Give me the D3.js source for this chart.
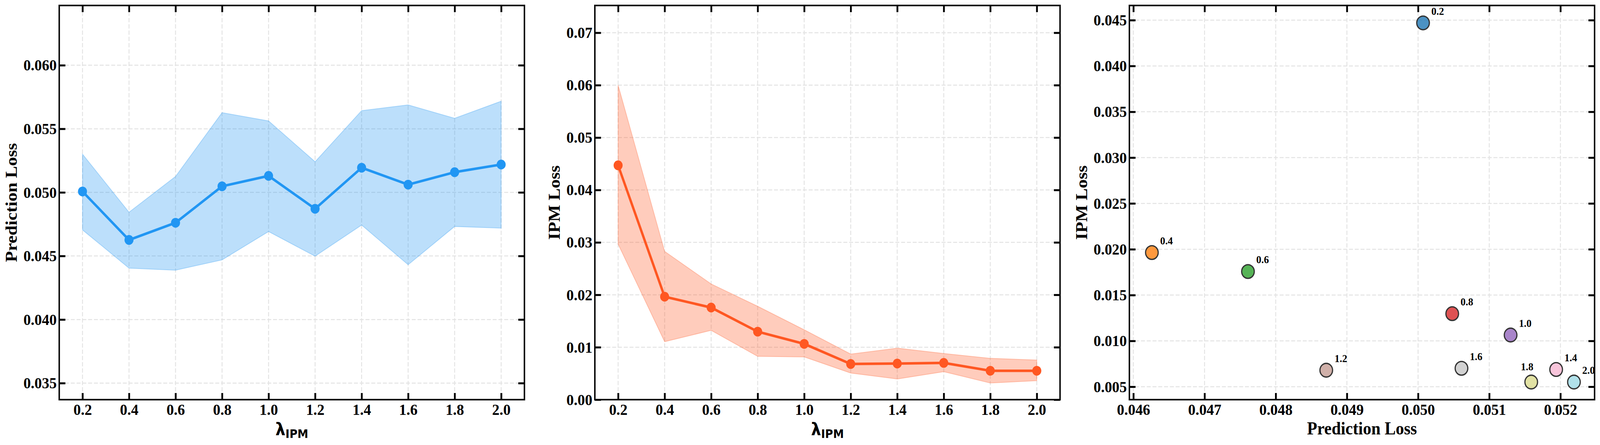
<!DOCTYPE html>
<html>
<head>
<meta charset="utf-8">
<script src="https://cdn.jsdelivr.net/npm/d3@7"></script>
<style>
  html, body { margin: 0; padding: 0; background: #fff; overflow: hidden; }
  #chart svg { display: block; }
</style>
</head>
<body>
<div id="chart"></div>
<script>
// ------------- data ----------------- //
const lambdas = [0.2, 0.4, 0.6, 0.8, 1.0, 1.2, 1.4, 1.6, 1.8, 2.0];

const predMean = [0.05007, 0.04626, 0.04761, 0.05048, 0.05130, 0.04871, 0.05194, 0.05061, 0.05159, 0.05219];
const predUpper = [0.05301, 0.04844, 0.05125, 0.05627, 0.05562, 0.05241, 0.05643, 0.05688, 0.05583, 0.05717];
const predLower = [0.04705, 0.04404, 0.04388, 0.04469, 0.04692, 0.04498, 0.04743, 0.04431, 0.04732, 0.04719];

const ipmMean = [0.04470, 0.01964, 0.01757, 0.01297, 0.01064, 0.00680, 0.00688, 0.00701, 0.00551, 0.00551];
const ipmUpper = [0.06000, 0.02828, 0.02207, 0.01781, 0.01333, 0.00869, 0.00982, 0.00880, 0.00788, 0.00756];
const ipmLower = [0.02968, 0.01106, 0.01322, 0.00826, 0.00815, 0.00507, 0.00394, 0.00534, 0.00318, 0.00362];

const lambdaTicks = [0.2, 0.4, 0.6, 0.8, 1.0, 1.2, 1.4, 1.6, 1.8, 2.0];
const predTicks = [0.035, 0.040, 0.045, 0.050, 0.055, 0.060];
const ipmTicks = [0.00, 0.01, 0.02, 0.03, 0.04, 0.05, 0.06, 0.07];
const scatterXTicks = [0.046, 0.047, 0.048, 0.049, 0.050, 0.051, 0.052];
const scatterYTicks = [0.005, 0.010, 0.015, 0.020, 0.025, 0.030, 0.035, 0.040, 0.045];

// tab20 picks for the ten lambdas
const pointColors = ['#1f77b4', '#ff7f0e', '#2ca02c', '#d62728', '#9467bd',
                     '#c49c94', '#f7b6d2', '#c7c7c7', '#dbdb8d', '#9edae5'];

// ------------- layout ----------------- //
const W = 4430, H = 1138;
const marginTop = 14, plotH = 1008, plotW = 1288;
const panelLefts = [164, 1647, 3127];
const serif = '"Liberation Serif", "Times New Roman", serif';
const sans = '"DejaVu Sans", sans-serif';

// viewBox stretched over the window so the figure fills the whole shot
const svg = d3.select('#chart')
  .append('svg')
  .attr('viewBox', '0 0 ' + W + ' ' + H)
  .attr('preserveAspectRatio', 'none')
  .style('width', '100vw')
  .style('height', '100vh')
  .style('background', '#fff');

// dashed light grid under everything
function frame(g, x, y, xTicks, yTicks) {
  const grid = g.append('g').attr('class', 'grid');
  grid.selectAll('line.gx').data(xTicks).join('line')
    .attr('class', 'gx')
    .attr('x1', d => x(d)).attr('x2', d => x(d))
    .attr('y1', 0).attr('y2', plotH);
  grid.selectAll('line.gy').data(yTicks).join('line')
    .attr('class', 'gy')
    .attr('x1', 0).attr('x2', plotW)
    .attr('y1', d => y(d)).attr('y2', d => y(d));
  grid.selectAll('line')
    .attr('stroke', '#e3e3e3')
    .attr('stroke-width', 2.5)
    .attr('stroke-dasharray', '11,5');
  return grid;
}

// inward ticks on all four sides, tick labels and the frame
function axes(g, x, y, xTicks, yTicks, xFmt, yFmt) {
  const style = sel => {
    sel.select('.domain').remove();
    sel.selectAll('.tick line').attr('stroke', '#000').attr('stroke-width', 5);
    sel.selectAll('.tick text')
      .attr('fill', '#000')
      .style('font-family', serif)
      .style('font-weight', 'bold')
      .style('font-size', '41px');
  };
  g.append('g')
    .attr('transform', 'translate(0,' + plotH + ')')
    .call(d3.axisBottom(x).tickValues(xTicks).tickFormat(xFmt).tickSizeInner(-17).tickSizeOuter(0).tickPadding(10))
    .call(style);
  g.append('g')
    .call(d3.axisTop(x).tickValues(xTicks).tickFormat('').tickSizeInner(-17).tickSizeOuter(0))
    .call(style);
  const left = g.append('g')
    .call(d3.axisLeft(y).tickValues(yTicks).tickFormat(yFmt).tickSizeInner(-17).tickSizeOuter(0).tickPadding(7))
    .call(style);
  g.append('g')
    .attr('transform', 'translate(' + plotW + ',0)')
    .call(d3.axisRight(y).tickValues(yTicks).tickFormat('').tickSizeInner(-17).tickSizeOuter(0))
    .call(style);

  g.append('rect')
    .attr('width', plotW)
    .attr('height', plotH)
    .attr('fill', 'none')
    .attr('stroke', '#000')
    .attr('stroke-width', 4);
  return left;
}

function yLabel(g, leftAxis, text) {
  const bb = leftAxis.node().getBBox();
  g.append('text')
    .attr('transform', 'translate(' + (bb.x - 18) + ',' + (plotH / 2) + ') rotate(-90)')
    .attr('text-anchor', 'middle')
    .style('font-family', serif)
    .style('font-weight', 'bold')
    .style('font-size', '46px')
    .text(text);
}

function lambdaLabel(g) {
  const t = g.append('text')
    .attr('x', plotW / 2)
    .attr('y', 1113 - marginTop)
    .attr('text-anchor', 'middle')
    .style('font-family', sans)
    .style('font-weight', 'bold');
  t.append('tspan').style('font-size', '44px').text('λ');
  t.append('tspan').style('font-size', '30px').attr('dy', 7).text('IPM');
}

// ------------- panel 1 & 2: line + band ----------------- //
function linePanel(idx, mean, lower, upper, yDomain, yTicks, yFmt, color, label) {
  const g = svg.append('g')
    .attr('transform', 'translate(' + panelLefts[idx] + ',' + marginTop + ')');

  const x = d3.scaleLinear().domain([0.1, 2.1]).range([0, plotW]);
  const y = d3.scaleLinear().domain(yDomain).range([plotH, 0]);

  frame(g, x, y, lambdaTicks, yTicks);

  const band = d3.area()
    .x((d, i) => x(lambdas[i]))
    .y0((d, i) => y(lower[i]))
    .y1((d, i) => y(upper[i]));

  g.append('path')
    .datum(mean)
    .attr('d', band)
    .attr('fill', color)
    .attr('fill-opacity', 0.3)
    .attr('stroke', color)
    .attr('stroke-opacity', 0.3)
    .attr('stroke-width', 2);

  const line = d3.line()
    .x((d, i) => x(lambdas[i]))
    .y(d => y(d));

  g.append('path')
    .datum(mean)
    .attr('d', line)
    .attr('fill', 'none')
    .attr('stroke', color)
    .attr('stroke-width', 6.5)
    .attr('stroke-linejoin', 'round');

  g.selectAll('circle.pt').data(mean).join('circle')
    .attr('class', 'pt')
    .attr('cx', (d, i) => x(lambdas[i]))
    .attr('cy', d => y(d))
    .attr('r', 12.5)
    .attr('fill', color);

  const left = axes(g, x, y, lambdaTicks, yTicks, d3.format('.1f'), yFmt);
  yLabel(g, left, label);
  lambdaLabel(g);
}

linePanel(0, predMean, predLower, predUpper, [0.0337, 0.0647], predTicks,
  d3.format('.3f'), '#2196F3', 'Prediction Loss');
linePanel(1, ipmMean, ipmLower, ipmUpper, [0, 0.0752], ipmTicks,
  d3.format('.2f'), '#FF5722', 'IPM Loss');

// ------------- panel 3: trade-off scatter ----------------- //
{
  const g = svg.append('g')
    .attr('transform', 'translate(' + panelLefts[2] + ',' + marginTop + ')');

  const x = d3.scaleLinear().domain([0.045944, 0.05248]).range([0, plotW]);
  const y = d3.scaleLinear().domain([0.00359, 0.04660]).range([plotH, 0]);

  frame(g, x, y, scatterXTicks, scatterYTicks);

  const pts = lambdas.map((lam, i) => ({ lam: lam, px: predMean[i], py: ipmMean[i], c: pointColors[i] }));

  g.selectAll('circle.dot').data(pts).join('circle')
    .attr('class', 'dot')
    .attr('cx', d => x(d.px))
    .attr('cy', d => y(d.py))
    .attr('r', 17.5)
    .attr('fill', d => d.c)
    .attr('fill-opacity', 0.8)
    .attr('stroke', '#333')
    .attr('stroke-width', 3.3);

  // 1.8 sits under its neighbours, so its tag goes up-left
  g.selectAll('text.tag').data(pts).join('text')
    .attr('class', 'tag')
    .attr('x', d => x(d.px) + (d.lam === 1.8 ? -29 : 23))
    .attr('y', d => y(d.py) + (d.lam === 1.8 ? -30 : -21))
    .style('font-family', serif)
    .style('font-weight', 'bold')
    .style('font-size', '28px')
    .text(d => d3.format('.1f')(d.lam));

  const left = axes(g, x, y, scatterXTicks, scatterYTicks, d3.format('.3f'), d3.format('.3f'));
  yLabel(g, left, 'IPM Loss');

  g.append('text')
    .attr('x', plotW / 2)
    .attr('y', 1111 - marginTop)
    .attr('text-anchor', 'middle')
    .style('font-family', serif)
    .style('font-weight', 'bold')
    .style('font-size', '46px')
    .text('Prediction Loss');
}
</script>
</body>
</html>
